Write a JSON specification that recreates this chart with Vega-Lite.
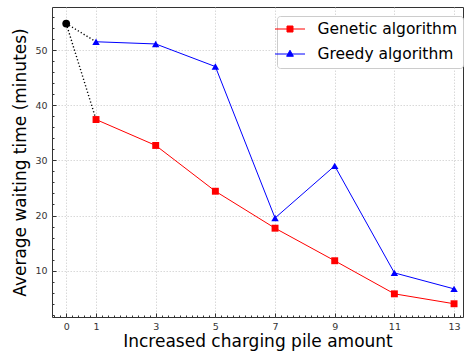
{
  "$schema": "https://vega.github.io/schema/vega-lite/v6.json",
  "width": 411,
  "height": 310,
  "autosize": {"type": "none"},
  "padding": {"left": 52, "top": 7, "right": 2, "bottom": 35},
  "data": {
    "values": [
      {"x": 1, "y": 37.4, "series": "Genetic algorithm"},
      {"x": 3, "y": 32.7, "series": "Genetic algorithm"},
      {"x": 5, "y": 24.4, "series": "Genetic algorithm"},
      {"x": 7, "y": 17.7, "series": "Genetic algorithm"},
      {"x": 9, "y": 11.8, "series": "Genetic algorithm"},
      {"x": 11, "y": 5.8, "series": "Genetic algorithm"},
      {"x": 13, "y": 4.0, "series": "Genetic algorithm"},
      {"x": 1, "y": 51.5, "series": "Greedy algorithm"},
      {"x": 3, "y": 51.1, "series": "Greedy algorithm"},
      {"x": 5, "y": 47.0, "series": "Greedy algorithm"},
      {"x": 7, "y": 19.55, "series": "Greedy algorithm"},
      {"x": 9, "y": 29.0, "series": "Greedy algorithm"},
      {"x": 11, "y": 9.6, "series": "Greedy algorithm"},
      {"x": 13, "y": 6.7, "series": "Greedy algorithm"},
      {"x": 0, "y": 54.8, "series": "start"},
      {"x": 0, "y": 54.8, "series": "link a"},
      {"x": 1, "y": 37.4, "series": "link a"},
      {"x": 0, "y": 54.8, "series": "link b"},
      {"x": 1, "y": 51.5, "series": "link b"}
    ]
  },
  "config": {
    "font": "DejaVu Sans",
    "view": {"stroke": "#333333", "strokeWidth": 1},
    "axis": {
      "domain": false,
      "grid": false,
      "labelFont": "DejaVu Sans",
      "labelFontSize": 9.5,
      "labelColor": "#333333",
      "tickColor": "#333333",
      "titleFont": "DejaVu Sans",
      "titleFontWeight": "normal",
      "titleColor": "#000000",
      "titleFontSize": 17
    },
    "legend": {
      "labelFont": "DejaVu Sans",
      "labelFontSize": 15.5,
      "labelColor": "#000000",
      "fillColor": "#ffffff",
      "strokeColor": "#cccccc",
      "cornerRadius": 3
    }
  },
  "resolve": {"axis": {"x": "independent", "y": "independent"}},
  "layer": [
    {
      "transform": [{"filter": {"field": "series", "oneOf": ["link a", "link b"]}}],
      "mark": {"type": "line", "color": "#000000", "strokeWidth": 1.4, "strokeDash": [1.2, 2.2]},
      "encoding": {
        "x": {"field": "x", "type": "quantitative", "scale": {"domain": [-0.476, 13.3], "nice": false, "zero": false}, "axis": null},
        "y": {"field": "y", "type": "quantitative", "scale": {"domain": [1.6, 57.8], "nice": false, "zero": false}, "axis": null},
        "detail": {"field": "series"}
      }
    },
    {
      "transform": [{"filter": {"field": "series", "equal": "Genetic algorithm"}}],
      "mark": {"type": "line", "strokeWidth": 1, "color": "#ff0000"},
      "encoding": {
        "x": {"field": "x", "type": "quantitative", "scale": {"domain": [-0.476, 13.3], "nice": false, "zero": false},
          "axis": {"orient": "bottom", "values": [0, 1, 3, 5, 7, 9, 11, 13], "tickSize": -4, "labelPadding": 8, "grid": true, "gridColor": "#cfcfcf", "gridDash": [1.5, 1.5], "gridWidth": 0.8, "title": "Increased charging pile amount", "titlePadding": 3, "labelFlush": false, "labelOverlap": false}},
        "y": {"field": "y", "type": "quantitative", "scale": {"domain": [1.6, 57.8], "nice": false, "zero": false},
          "axis": {"orient": "left", "values": [10, 20, 30, 40, 50], "tickSize": -4, "labelPadding": 9, "grid": true, "gridColor": "#cfcfcf", "gridDash": [1.5, 1.5], "gridWidth": 0.8, "title": "Average waiting time (minutes)", "titlePadding": 5, "labelFlush": false, "labelOverlap": false}}
      }
    },
    {
      "transform": [{"filter": {"field": "series", "equal": "Greedy algorithm"}}],
      "mark": {"type": "line", "strokeWidth": 1, "color": "#0000ff"},
      "encoding": {
        "x": {"field": "x", "type": "quantitative", "axis": null},
        "y": {"field": "y", "type": "quantitative", "axis": null}
      }
    },
    {
      "transform": [{"filter": {"field": "series", "equal": "Genetic algorithm"}}],
      "mark": {"type": "point", "shape": "square", "filled": true, "color": "#ff0000", "size": 48, "opacity": 1},
      "encoding": {
        "x": {"field": "x", "type": "quantitative", "axis": null},
        "y": {"field": "y", "type": "quantitative", "axis": null}
      }
    },
    {
      "transform": [{"filter": {"field": "series", "equal": "Greedy algorithm"}}],
      "mark": {"type": "point", "shape": "triangle-up", "filled": true, "color": "#0000ff", "size": 55, "opacity": 1},
      "encoding": {
        "x": {"field": "x", "type": "quantitative", "axis": null},
        "y": {"field": "y", "type": "quantitative", "axis": null}
      }
    },
    {
      "transform": [{"filter": {"field": "series", "equal": "start"}}],
      "mark": {"type": "point", "shape": "circle", "filled": true, "color": "#000000", "size": 60, "opacity": 1},
      "encoding": {
        "x": {"field": "x", "type": "quantitative", "axis": null},
        "y": {"field": "y", "type": "quantitative", "axis": null}
      }
    },
    {
      "transform": [{"filter": {"field": "series", "oneOf": ["Genetic algorithm", "Greedy algorithm"]}}],
      "mark": {"type": "point", "filled": true, "opacity": 0, "size": 225, "strokeWidth": 1},
      "encoding": {
        "x": {"field": "x", "type": "quantitative",
          "axis": {"orient": "bottom", "values": [-0.4,-0.2,0,0.2,0.4,0.6,0.8,1,1.2,1.4,1.6,1.8,2,2.2,2.4,2.6,2.8,3,3.2,3.4,3.6,3.8,4,4.2,4.4,4.6,4.8,5,5.2,5.4,5.6,5.8,6,6.2,6.4,6.6,6.8,7,7.2,7.4,7.6,7.8,8,8.2,8.4,8.6,8.8,9,9.2,9.4,9.6,9.8,10,10.2,10.4,10.6,10.8,11,11.2,11.4,11.6,11.8,12,12.2,12.4,12.6,12.8,13,13.2], "tickSize": -2, "labels": false, "title": null, "grid": false, "domain": false}},
        "y": {"field": "y", "type": "quantitative",
          "axis": {"orient": "left", "values": [2,4,6,8,10,12,14,16,18,20,22,24,26,28,30,32,34,36,38,40,42,44,46,48,50,52,54,56], "tickSize": -2, "labels": false, "title": null, "grid": false, "domain": false}},
        "fill": {"field": "series", "type": "nominal", "scale": {"domain": ["Genetic algorithm", "Greedy algorithm"], "range": ["#ff0000", "#0000ff"]},
          "legend": {"title": null, "orient": "none", "legendX": 225, "legendY": 9, "symbolSize": 225, "symbolOpacity": 1, "symbolStrokeWidth": 1, "labelOffset": 19.5, "rowPadding": 8, "padding": 5}},
        "stroke": {"field": "series", "type": "nominal", "scale": {"domain": ["Genetic algorithm", "Greedy algorithm"], "range": ["#ff0000", "#0000ff"]},
          "legend": {"title": null, "orient": "none", "legendX": 225, "legendY": 9, "symbolSize": 225, "symbolOpacity": 1, "symbolStrokeWidth": 1, "labelOffset": 19.5, "rowPadding": 8, "padding": 5}},
        "shape": {"field": "series", "type": "nominal", "scale": {"domain": ["Genetic algorithm", "Greedy algorithm"], "range": ["M-2,0H2M-0.4,-0.4H0.4V0.4H-0.4Z", "M-2,0H2M0,-0.5L0.45,0.3H-0.45Z"]},
          "legend": {"title": null, "orient": "none", "legendX": 225, "legendY": 9, "symbolSize": 225, "symbolOpacity": 1, "symbolStrokeWidth": 1, "labelOffset": 19.5, "rowPadding": 8, "padding": 5}}
      }
    }
  ]
}
